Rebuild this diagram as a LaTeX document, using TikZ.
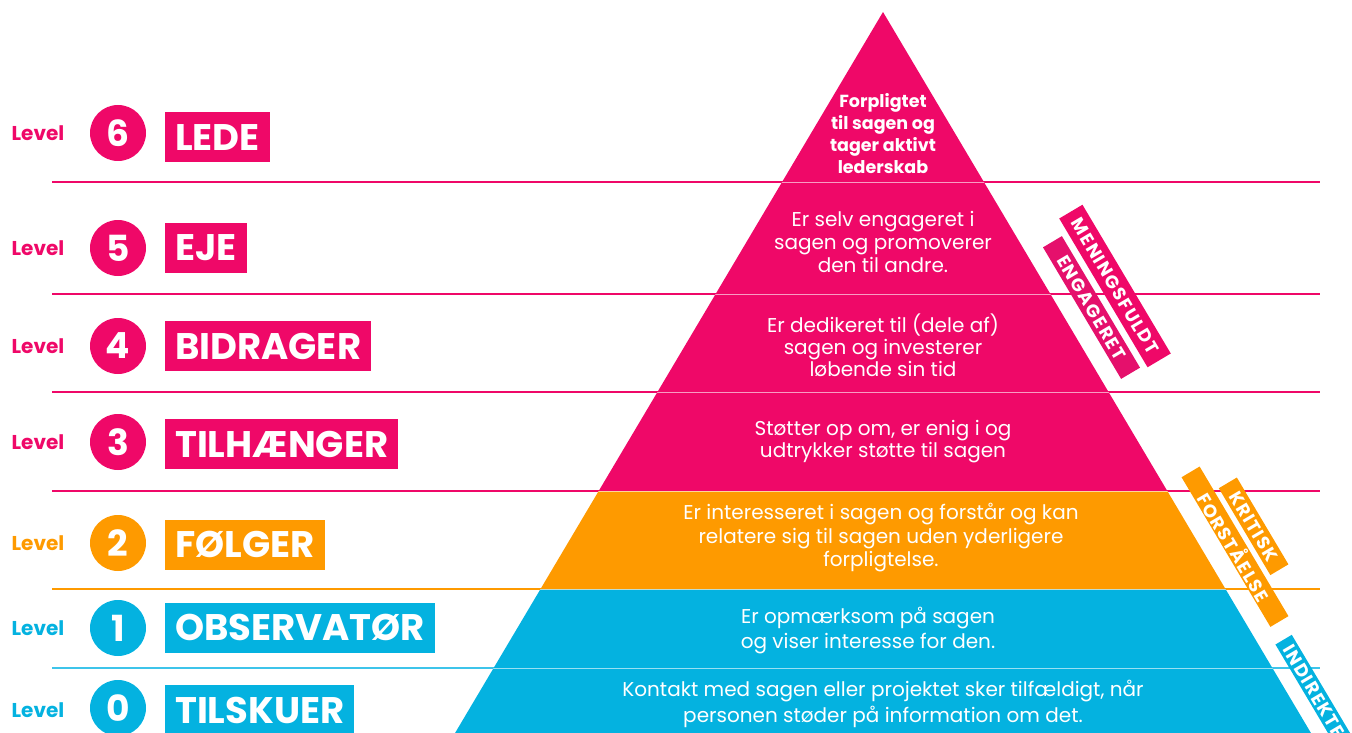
\documentclass[tikz,border=0pt]{standalone}
\usepackage{fontspec}
\setmainfont{Poppins}
\usetikzlibrary{calc}
\definecolor{cmag}{HTML}{EF0868}
\definecolor{cmagd}{HTML}{E5106C}
\definecolor{corange}{HTML}{FE9A00}
\definecolor{cblue}{HTML}{04B2E0}
\definecolor{cbluel}{HTML}{3EC4EA}
\tikzset{
  lvl/.style={font=\fontsize{20}{20}\selectfont\bfseries},
  num/.style={circle,minimum size=56pt,inner sep=0pt,text=white,font=\fontsize{36}{36}\selectfont\bfseries},
  titlebox/.style={anchor=west,minimum height=50pt,inner xsep=10pt,inner ysep=0pt,text=white,font=\fontsize{37}{37}\selectfont\bfseries},
  desc/.style={align=center,text=white,font=\fontsize{20}{24}\selectfont},
  tag/.style={rotate=-59.3,text=white,inner sep=0pt,font=\fontsize{18}{18}\selectfont\bfseries\addfontfeature{LetterSpace=8}},
}
\begin{document}
\begin{tikzpicture}[x=1pt,y=-1pt]
    \useasboundingbox(0,0)rectangle(1352,733);
    \clip(0,0)rectangle(1352,733);
    % separators
    \coordinate(a1)at(52,182);  \coordinate(b1)at(1320,182);
    \coordinate(a2)at(52,294);  \coordinate(b2)at(1320,294);
    \coordinate(a3)at(52,392);  \coordinate(b3)at(1320,392);
    \coordinate(a4)at(52,491);  \coordinate(b4)at(1320,491);
    \coordinate(a5)at(52,589);  \coordinate(b5)at(1320,589);
    \coordinate(a6)at(52,668);  \coordinate(b6)at(1320,668);
    \draw[cmag,line width=2pt](a1)--(b1) (a2)--(b2) (a3)--(b3) (a4)--(b4);
    \draw[corange,line width=2pt](a5)--(b5);
    \draw[cbluel,line width=2pt](a6)--(b6);
    % pyramid
    \coordinate(T)at(883,12);
    \coordinate(BL)at(450.9,740);
    \coordinate(BR)at(1315.1,740);
    \fill[cmag](T)--($(T)!0.658!(BL)$)--($(T)!0.658!(BR)$)--cycle;
    \fill[corange]($(T)!0.658!(BL)$)--($(T)!0.793!(BL)$)--($(T)!0.793!(BR)$)--($(T)!0.658!(BR)$)--cycle;
    \fill[cblue]($(T)!0.793!(BL)$)--(BL)--(BR)--($(T)!0.793!(BR)$)--cycle;
    \begin{scope}
      \clip(T)--(BL)--(BR)--cycle;
      \draw[white,opacity=0.6,line width=1pt](a1)--(b1) (a2)--(b2) (a3)--(b3) (a4)--(b4) (a5)--(b5) (a6)--(b6);
    \end{scope}
    % levels
    \node[lvl,text=cmag](l6)at(38,133){Level};
    \node[num,fill=cmag](c6)at(118,133){6};
    \node[titlebox,fill=cmag](t6)at(165,137.5){LEDE};
    \node[lvl,text=cmag](l5)at(38,248){Level};
    \node[num,fill=cmag](c5)at(118,248){5};
    \node[titlebox,fill=cmag](t5)at(165,248){EJE};
    \node[lvl,text=cmag](l4)at(38,346){Level};
    \node[num,fill=cmag](c4)at(118,346){4};
    \node[titlebox,fill=cmag](t4)at(165,346){BIDRAGER};
    \node[lvl,text=cmag](l3)at(38,442){Level};
    \node[num,fill=cmag](c3)at(118,442){3};
    \node[titlebox,fill=cmag](t3)at(165,444){TILHÆNGER};
    \node[lvl,text=corange](l2)at(38,543){Level};
    \node[num,fill=corange](c2)at(118,543){2};
    \node[titlebox,fill=corange](t2)at(165,544.5){FØLGER};
    \node[lvl,text=cblue](l1)at(38,628){Level};
    \node[num,fill=cblue](c1)at(118,628){1};
    \node[titlebox,fill=cblue](t1)at(165,627.5){OBSERVATØR};
    \node[lvl,text=cblue](l0)at(38,710){Level};
    \node[num,fill=cblue](c0)at(118,708){0};
    \node[titlebox,fill=cblue](t0)at(165,710){TILSKUER};
    % descriptions
    \node[desc,font=\fontsize{17.5}{22}\selectfont\bfseries](d6)at(883,134){Forpligtet\\til sagen og\\tager aktivt\\lederskab};
    \node[desc,font=\fontsize{20}{23}\selectfont](d5)at(883,242){Er selv engageret i\\sagen og promoverer\\den til andre.};
    \node[desc,font=\fontsize{20}{22}\selectfont](d4)at(883,345){Er dedikeret til (dele af)\\sagen og investerer\\løbende sin tid};
    \node[desc,font=\fontsize{20}{22}\selectfont](d3)at(883,442){Støtter op om, er enig i og\\udtrykker støtte til sagen};
    \node[desc,font=\fontsize{20}{23.5}\selectfont](d2)at(881,538){Er interesseret i sagen og forstår og kan\\relatere sig til sagen uden yderligere\\forpligtelse.};
    \node[desc,font=\fontsize{20}{25}\selectfont](d1)at(868,630.5){Er opmærksom på sagen\\og viser interesse for den.};
    \node[desc,font=\fontsize{20}{26}\selectfont](d0)at(883,704){Kontakt med sagen eller projektet sker tilfældigt, når\\personen støder på information om det.};
    % side tags
    \node[tag,fill=cmag,minimum width=173pt,minimum height=27pt](m1)at(1115,286){MENINGSFULDT};
    \node[tag,fill=cmagd,minimum width=153pt,minimum height=22pt](m2)at(1091.5,307.5){ENGAGERET};
    \node[tag,fill=corange,minimum width=101pt,minimum height=21pt](k1)at(1253.6,526.3){KRITISK};
    \node[tag,fill=corange,minimum width=174pt,minimum height=21pt](k2)at(1235,546.7){FORSTÅELSE};
    \node[tag,fill=cblue,anchor=west,text width=170pt,align=left,minimum height=19pt,inner xsep=8pt](i1)at(1283.5,639.5){INDIREKTE};
  \end{tikzpicture}
\end{document}
